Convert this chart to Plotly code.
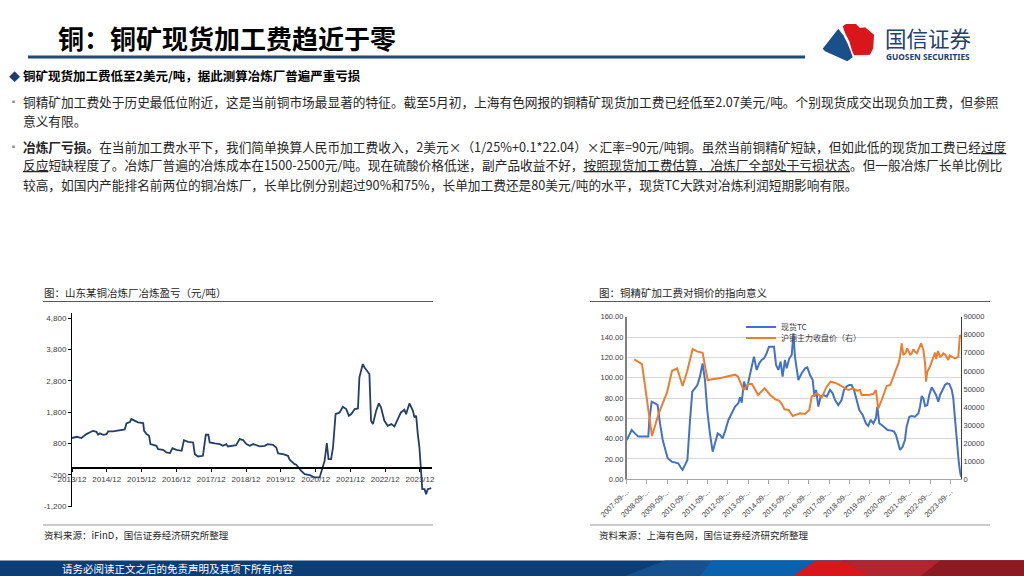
import plotly.graph_objects as go

W, H = 1024, 576


def px(x):
    return x / W


def py(y):
    return 1 - y / H


# ---------------- Data: left chart (山东某铜冶炼厂冶炼盈亏, 元/吨) ----------------
smelter_dates = [
    "2013-12-01", "2014-01-20", "2014-03-10", "2014-05-01", "2014-06-25", "2014-07-10",
    "2014-08-15", "2014-09-01", "2014-09-20", "2014-10-25", "2014-11-28", "2014-12-15",
    "2015-02-05", "2015-04-15", "2015-06-08", "2015-06-25", "2015-08-01", "2015-08-15",
    "2015-09-20", "2015-10-25", "2015-12-18", "2015-12-28", "2016-01-22", "2016-02-18",
    "2016-03-03", "2016-04-18", "2016-05-05", "2016-05-22", "2016-07-15", "2016-08-18",
    "2016-09-25", "2016-10-20", "2016-12-01", "2017-01-25", "2017-02-18", "2017-04-03",
    "2017-05-25", "2017-06-12", "2017-07-15", "2017-09-05", "2017-10-05", "2017-11-01",
    "2017-11-15", "2018-01-08", "2018-03-01", "2018-04-03", "2018-05-08", "2018-05-25",
    "2018-07-18", "2018-08-20", "2018-09-25", "2018-11-01", "2018-12-05", "2019-01-10",
    "2019-02-15", "2019-03-18", "2019-04-22", "2019-06-15", "2019-07-18", "2019-09-10",
    "2019-10-15", "2019-11-03", "2019-12-25", "2020-02-15", "2020-03-03", "2020-04-25",
    "2020-05-12", "2020-07-03", "2020-08-08", "2020-10-01", "2020-11-22", "2021-01-12",
    "2021-02-18", "2021-03-05", "2021-03-28", "2021-04-15", "2021-05-12", "2021-06-01",
    "2021-06-28", "2021-08-10", "2021-09-12", "2021-10-18", "2021-11-15", "2021-12-10",
    "2022-01-15", "2022-02-18", "2022-03-05", "2022-04-10", "2022-04-28", "2022-06-03",
    "2022-06-18", "2022-07-05", "2022-07-25", "2022-08-28", "2022-09-25", "2022-10-18",
    "2022-11-22", "2022-12-28", "2023-02-03", "2023-03-08", "2023-04-12", "2023-05-15",
    "2023-06-20", "2023-07-08", "2023-08-12", "2023-09-18", "2023-10-03", "2023-10-22",
    "2023-11-08", "2023-11-25", "2023-12-25", "2024-01-18", "2024-02-03", "2024-02-20",
    "2024-03-28",
]
smelter_profit = [
    970, 1010, 970, 1096, 1180, 1200,
    1170, 1075, 1120, 1075, 1096, 1180,
    1180, 1220, 1245, 1436, 1480, 1575,
    1520, 1470, 1447, 1200, 1096, 1040,
    777, 755, 723, 617, 596, 510,
    490, 650, 596, 564, 904, 850,
    830, 457, 383, 404, 1075, 1075,
    830, 798, 777, 723, 777, 702,
    723, 745, 936, 904, 777, 723,
    777, 745, 702, 723, 777, 755,
    670, 479, 457, 404, 277, 138,
    117, -74, -181, -213, -287, -287,
    160, 245, 809, 298, 298, 670,
    1734, 1787, 1968, 1894, 1681, 1734,
    1894, 1915, 2905, 3330, 3224, 3064,
    3011, 1520, 1415, 1840, 2075, 1947,
    1520, 1362, 1415, 1340, 1575, 1787,
    1872, 1734, 2075, 1840, 1628, 1681,
    1096, 670, -660, -660, -819, -660,
    -628,
]
left_tick_dates = ["%d-12-01" % y for y in range(2013, 2024)]
left_tick_labels = ["%d/12" % y for y in range(2013, 2024)]
left_y_ticks = [-1200, -200, 800, 1800, 2800, 3800, 4800]
left_y_labels = ["-1,200", "-200", "800", "1,800", "2,800", "3,800", "4,800"]

# ---------------- Data: right chart ----------------
tc_dates = [
    "2007-09-01", "2007-10-18", "2007-11-30", "2008-01-28", "2008-03-28", "2008-06-27",
    "2008-09-25", "2008-10-13", "2008-11-25", "2009-01-25", "2009-03-12", "2009-04-24",
    "2009-06-12", "2009-07-22", "2009-09-10", "2009-11-22", "2010-02-08", "2010-03-20",
    "2010-05-01", "2010-06-06", "2010-07-18", "2010-09-01", "2010-10-18", "2010-11-28",
    "2011-01-15", "2011-02-28", "2011-04-15", "2011-06-02", "2011-07-15", "2011-08-25",
    "2011-10-12", "2011-12-01", "2012-01-12", "2012-03-01", "2012-04-12", "2012-05-28",
    "2012-07-10", "2012-09-10", "2012-11-10", "2013-01-08", "2013-03-08", "2013-04-08",
    "2013-05-08", "2013-06-18", "2013-08-05", "2013-09-22", "2013-11-05", "2013-12-15",
    "2014-02-02", "2014-03-20", "2014-05-02", "2014-06-15", "2014-08-01", "2014-09-12",
    "2014-12-12", "2015-01-18", "2015-03-01", "2015-04-10", "2015-05-16", "2015-06-28",
    "2015-07-28", "2015-09-15", "2015-10-28", "2015-11-28", "2015-12-25", "2016-01-25",
    "2016-02-25", "2016-04-25", "2016-06-25", "2016-08-05", "2016-09-22", "2016-11-10",
    "2016-12-10", "2017-01-10", "2017-02-20", "2017-04-02", "2017-05-20", "2017-07-20",
    "2017-09-18", "2017-11-05", "2017-12-18", "2018-02-15", "2018-04-15", "2018-05-28",
    "2018-07-15", "2018-09-01", "2018-10-12", "2018-11-25", "2019-01-12", "2019-03-01",
    "2019-05-01", "2019-06-28", "2019-08-10", "2019-09-22", "2019-11-08", "2019-12-25",
    "2020-01-20", "2020-02-25", "2020-04-08", "2020-06-08", "2020-07-25", "2020-10-05",
    "2020-11-18", "2020-12-22", "2021-02-02", "2021-03-05", "2021-04-22", "2021-06-02",
    "2021-07-02", "2021-08-20", "2021-10-01", "2021-12-01", "2022-02-01", "2022-03-01",
    "2022-04-01", "2022-05-01", "2022-06-01", "2022-07-10", "2022-08-15", "2022-09-28",
    "2022-10-28", "2022-12-15", "2023-01-25", "2023-02-25", "2023-04-12", "2023-05-25",
    "2023-07-05", "2023-08-12", "2023-09-25", "2023-10-22", "2023-11-22", "2023-12-22",
    "2024-01-10", "2024-01-28", "2024-02-20", "2024-03-10",
]
tc_values = [
    38.7, 44.6, 48.5, 45.2, 42.0, 42.0,
    42.0, 58.0, 76.4, 74.8, 73.0, 55.0,
    38.7, 30.5, 20.7, 17.4, 16.4, 15.7,
    11.8, 9.2, 14.0, 19.0, 58.0, 86.2,
    89.5, 92.8, 101.0, 114.0, 97.7, 68.2,
    45.2, 27.2, 35.4, 45.2, 43.6, 40.3,
    46.9, 58.4, 65.0, 71.5, 74.8, 80.7,
    75.4, 96.1, 87.9, 101.0, 112.5, 120.7,
    107.6, 114.0, 117.4, 119.0, 124.0, 130.5,
    130.5, 112.5, 107.6, 115.7, 101.0, 117.4,
    109.2, 119.0, 122.3, 143.6, 120.7, 107.6,
    97.7, 104.3, 109.2, 110.2, 102.6, 97.7,
    81.3, 87.9, 71.5, 81.3, 83.0, 81.3,
    87.9, 84.6, 78.0, 73.0, 78.0, 87.9,
    91.2, 92.8, 92.8, 87.9, 78.0, 68.2,
    63.3, 55.0, 52.5, 58.4, 55.0, 60.0,
    71.5, 55.0, 53.4, 50.2, 48.5, 47.9,
    46.9, 43.6, 35.4, 28.9, 32.1, 38.7,
    51.8, 61.6, 62.3, 61.6, 65.0, 71.5,
    82.0, 79.7, 72.1, 73.0, 83.0, 90.5,
    87.9, 83.0, 76.4, 83.0, 87.9, 92.8,
    94.4, 93.8, 88.0, 80.0, 60.0, 38.0,
    30.0, 18.0, 8.0, 2.6,
]
cu_dates = [
    "2008-01-15", "2008-06-03", "2008-12-01", "2009-04-01", "2009-08-28", "2009-11-28",
    "2010-02-28", "2010-06-06", "2010-08-25", "2010-12-05", "2011-02-22", "2011-06-02",
    "2011-09-01", "2012-05-15", "2013-01-12", "2013-03-01", "2013-06-12", "2013-09-01",
    "2013-11-10", "2014-02-28", "2014-06-25", "2014-10-05", "2015-01-05", "2015-03-15",
    "2015-05-02", "2015-06-20", "2015-09-01", "2015-11-15", "2016-03-25", "2016-06-25",
    "2016-09-10", "2016-10-22", "2017-01-22", "2017-04-22", "2017-07-20", "2017-10-01",
    "2018-01-15", "2018-05-15", "2018-08-15", "2018-11-12", "2019-01-12", "2019-03-12",
    "2019-04-12", "2019-08-10", "2019-11-08", "2019-12-25", "2020-02-08", "2020-04-08",
    "2020-07-08", "2020-09-08", "2020-10-20", "2020-11-15", "2020-12-08", "2021-02-05",
    "2021-03-05", "2021-04-05", "2021-05-05", "2021-06-15", "2021-07-10", "2021-08-05",
    "2021-09-05", "2021-10-01", "2021-11-01", "2021-12-01", "2022-01-05", "2022-02-01",
    "2022-03-20", "2022-05-01", "2022-06-01", "2022-06-18", "2022-07-10", "2022-08-28",
    "2022-10-10", "2022-11-28", "2022-12-20", "2023-01-20", "2023-02-25", "2023-03-20",
    "2023-04-25", "2023-06-01", "2023-07-25", "2023-08-20", "2023-09-25", "2023-11-22",
    "2024-01-22", "2024-02-20", "2024-03-10",
]
cu_prices = [
    66400, 63800, 23970, 36500, 47940, 60100,
    61400, 51630, 59560, 72100, 70800, 70070,
    54950, 56240, 57900, 56800, 49420, 52740,
    52740, 46650, 50340, 46650, 44260, 43520,
    41670, 38720, 38360, 35040, 36510, 36140,
    38360, 45730, 47575, 45360, 51260, 54030,
    53100, 51260, 49420, 50340, 49050, 49420,
    46650, 46650, 47200, 49420, 39280, 43890,
    51630, 52190, 55000, 57500, 59560, 64170,
    67860, 75235, 68780, 70000, 72500, 70620,
    69000, 69700, 72000, 70620, 69800, 71920,
    75235, 71550, 64170, 54030, 59560, 62330,
    66020, 70070, 66500, 71000, 67860, 68000,
    69700, 69000, 66020, 68500, 67860, 66940,
    67860, 79850, 78900,
]
right_tick_dates = ["%d-09-01" % y for y in range(2007, 2024)]
right_tick_labels = ["%d-09-..." % y for y in range(2007, 2024)]

# ---------------- Text ----------------
page_title = "铜：铜矿现货加工费趋近于零"
heading = "铜矿现货加工费低至2美元/吨，据此测算冶炼厂普遍严重亏损"
body_lines = [
    (101, "铜精矿加工费处于历史最低位附近，这是当前铜市场最显著的特征。截至5月初，上海有色网报的铜精矿现货加工费已经低至2.07美元/吨。个别现货成交出现负加工费，但参照"),
    (120, "意义有限。"),
    (146, "<b>冶炼厂亏损。</b>在当前加工费水平下，我们简单换算人民币加工费收入，2美元×（1/25%+0.1*22.04）×汇率=90元/吨铜。虽然当前铜精矿短缺，但如此低的现货加工费已经<u>过度</u>"),
    (165, "<u>反应</u>短缺程度了。冶炼厂普遍的冶炼成本在1500-2500元/吨。现在硫酸价格低迷，副产品收益不好，<u>按照现货加工费估算，冶炼厂全部处于亏损状态</u>。但一般冶炼厂长单比例比"),
    (184, "较高，如国内产能排名前两位的铜冶炼厂，长单比例分别超过90%和75%，长单加工费还是80美元/吨的水平，现货TC大跌对冶炼利润短期影响有限。"),
]
bullet_rows = [101, 146]
left_title = "图：山东某铜冶炼厂冶炼盈亏（元/吨）"
right_title = "图：铜精矿加工费对铜价的指向意义"
left_source = "资料来源：iFinD，国信证券经济研究所整理"
right_source = "资料来源：上海有色网，国信证券经济研究所整理"
footer_text = "请务必阅读正文之后的免责声明及其项下所有内容"

CJK = "Noto Sans CJK SC"
NUM = "Liberation Sans, Arial, sans-serif"

fig = go.Figure()

fig.add_trace(go.Scatter(
    x=smelter_dates, y=smelter_profit, mode="lines",
    line=dict(color="#243f66", width=1.8), showlegend=False,
    xaxis="x", yaxis="y", hoverinfo="skip",
))
fig.add_trace(go.Scatter(
    x=tc_dates, y=tc_values, mode="lines", name="现货TC",
    line=dict(color="#4472c4", width=2), xaxis="x2", yaxis="y2", legend="legend",
))
fig.add_trace(go.Scatter(
    x=cu_dates, y=cu_prices, mode="lines", name="沪铜主力收盘价（右）",
    line=dict(color="#ed7d31", width=2), xaxis="x2", yaxis="y3", legend="legend2",
))

# left chart geometry
L_X0, L_X1, L_Y0, L_Y1 = 72, 432, 507, 313
L_RANGE = [-1230, 4960]
ydom_l = [py(L_Y0), py(L_Y1)]
zero_pos = ydom_l[0] + (0 - L_RANGE[0]) / (L_RANGE[1] - L_RANGE[0]) * (ydom_l[1] - ydom_l[0])

R_X0, R_X1, R_Y0, R_Y1 = 626.7, 961, 479.3, 316.7

tickfont = dict(family=NUM, size=8, color="#404040")
legend_style = dict(
    xanchor="left", yanchor="middle",
    font=dict(family=CJK, size=8, color="#404040"),
    bgcolor="rgba(0,0,0,0)", itemwidth=30, borderwidth=0,
)

fig.update_layout(
    width=W, height=H,
    margin=dict(l=0, r=0, t=0, b=0, pad=0, autoexpand=False),
    paper_bgcolor="white", plot_bgcolor="rgba(0,0,0,0)",
    font=dict(family=CJK, color="#222222"),
    xaxis=dict(
        domain=[px(L_X0), px(L_X1)], type="date",
        range=["2013-12-01", "2024-04-05"],
        tickvals=left_tick_dates, ticktext=left_tick_labels,
        tickfont=tickfont, showgrid=False, zeroline=False,
        showline=True, linecolor="black", linewidth=1.5,
        ticks="outside", ticklen=3, tickcolor="black",
        anchor="free", position=zero_pos, automargin=False,
    ),
    yaxis=dict(
        domain=ydom_l, range=L_RANGE,
        tickvals=left_y_ticks, ticktext=left_y_labels,
        tickfont=tickfont, showgrid=False, zeroline=False,
        showline=True, linecolor="black", linewidth=1,
        ticks="outside", ticklen=3, tickcolor="black",
        anchor="x", automargin=False,
    ),
    xaxis2=dict(
        domain=[px(R_X0), px(R_X1)], type="date",
        range=["2007-09-01", "2024-03-10"],
        tickvals=right_tick_dates, ticktext=right_tick_labels,
        tickangle=-45, tickfont=dict(family=NUM, size=7.5, color="#404040"),
        showgrid=False, zeroline=False,
        showline=True, linecolor="#a6a6a6", linewidth=1,
        ticks="outside", ticklen=4, tickcolor="#a6a6a6",
        anchor="y2", automargin=False,
    ),
    yaxis2=dict(
        domain=[py(R_Y0), py(R_Y1)], range=[0, 160], dtick=20, tick0=0,
        tickformat=".2f", tickfont=dict(family=NUM, size=7.5, color="#404040"),
        showgrid=True, gridcolor="#d9d9d9", gridwidth=1, zeroline=False,
        showline=True, linecolor="#808080", linewidth=1.5,
        anchor="x2", automargin=False,
    ),
    yaxis3=dict(
        overlaying="y2", side="right", anchor="x2",
        range=[0, 90000], dtick=10000, tick0=0, tickformat="d",
        tickfont=dict(family=NUM, size=7.5, color="#404040"),
        showgrid=False, zeroline=False,
        showline=True, linecolor="#404040", linewidth=1, automargin=False,
    ),
    legend=dict(x=px(741), y=py(327), **legend_style),
    legend2=dict(x=px(741), y=py(338), **legend_style),
)

ann = []


def text(x, y, s, size, color="#222222", bold=False, family=CJK, xanchor="left"):
    ann.append(dict(
        x=px(x), y=py(y), xref="paper", yref="paper", text=("<b>%s</b>" % s) if bold else s,
        showarrow=False, xanchor=xanchor, yanchor="middle",
        font=dict(family=family, size=size, color=color),
    ))


text(56, 38, page_title, 26, color="#000000", bold=True)
text(7, 76, "◆", 11, color="#1f3d6b")
text(21, 76, heading, 12.5, color="#000000", bold=True)
for yb in bullet_rows:
    text(7, yb, "▪", 9, color="#8c8c8c")
for yl, s in body_lines:
    text(21, yl, s, 12.7, color="#262626")

text(42, 292, left_title, 10.5, color="#262626")
text(597, 292, right_title, 10.5, color="#262626")
text(42, 535, left_source, 9.5, color="#262626")
text(597, 535, right_source, 9.5, color="#262626")
text(60, 568, footer_text, 10.5, color="#ffffff")
text(883, 38, "国信证券", 21.5, color="#23406e")
text(884, 56.5, "GUOSEN SECURITIES", 8.3, color="#23406e", bold=True, family="Noto Sans, sans-serif")

fig.update_layout(annotations=ann)

shapes = []


def rect(x0, y0, x1, y1, color):
    shapes.append(dict(type="rect", xref="paper", yref="paper",
                       x0=px(x0), x1=px(x1), y0=py(y1), y1=py(y0),
                       fillcolor=color, line=dict(width=0), layer="above"))


def hline(x0, x1, y, color, width):
    shapes.append(dict(type="line", xref="paper", yref="paper",
                       x0=px(x0), x1=px(x1), y0=py(y), y1=py(y),
                       line=dict(color=color, width=width), layer="above"))


def poly(points, color):
    d = "M " + " L ".join("%.5f,%.5f" % (px(a), py(b)) for a, b in points) + " Z"
    shapes.append(dict(type="path", xref="paper", yref="paper", path=d,
                       fillcolor=color, line=dict(width=0), layer="above"))


# title bar
rect(28, 55.5, 805, 58.5, "#1d4a7e")
# chart title / source rules
hline(43, 433, 301.5, "#595959", 1.2)
hline(590, 990, 301.5, "#595959", 1.2)
hline(43, 433, 525, "#7f7f7f", 0.8)
hline(590, 990, 525, "#7f7f7f", 0.8)

# footer band
rect(0, 560.5, 1024, 576, "#0b3d77")
poly([(625, 576), (665, 560.5), (1024, 560.5), (1024, 576)], "#15508f")
poly([(700, 576), (712, 560.5), (1024, 560.5), (1024, 576)], "#0a62ae")
poly([(793, 576), (816, 560.5), (1024, 560.5), (1024, 576)], "#d8161c")
poly([(842, 560.5), (870, 576), (1024, 576), (1024, 560.5)], "#b02530")
poly([(921, 576), (940, 560.5), (1024, 560.5), (1024, 576)], "#8c1b21")

# logo
poly([(838.3, 28.7), (822.7, 48.7), (825, 51.3), (847.3, 61.3), (852.7, 57.3),
      (850.7, 51.3), (847.3, 43), (843.3, 35.3)], "#1b4f8a")
poly([(842.7, 26.3), (846, 24), (856, 24), (860, 28), (865, 27.3), (874, 34.7),
      (873.3, 48), (870, 54.7), (854, 55.3), (851.7, 49.7), (849.3, 41.3), (845, 33)], "#d8161c")

fig.update_layout(shapes=shapes)

fig.write_html(
    "out.html", include_plotlyjs=True, config={"displayModeBar": False},
    post_script="document.body.style.margin='0';document.body.style.overflow='hidden';",
)
